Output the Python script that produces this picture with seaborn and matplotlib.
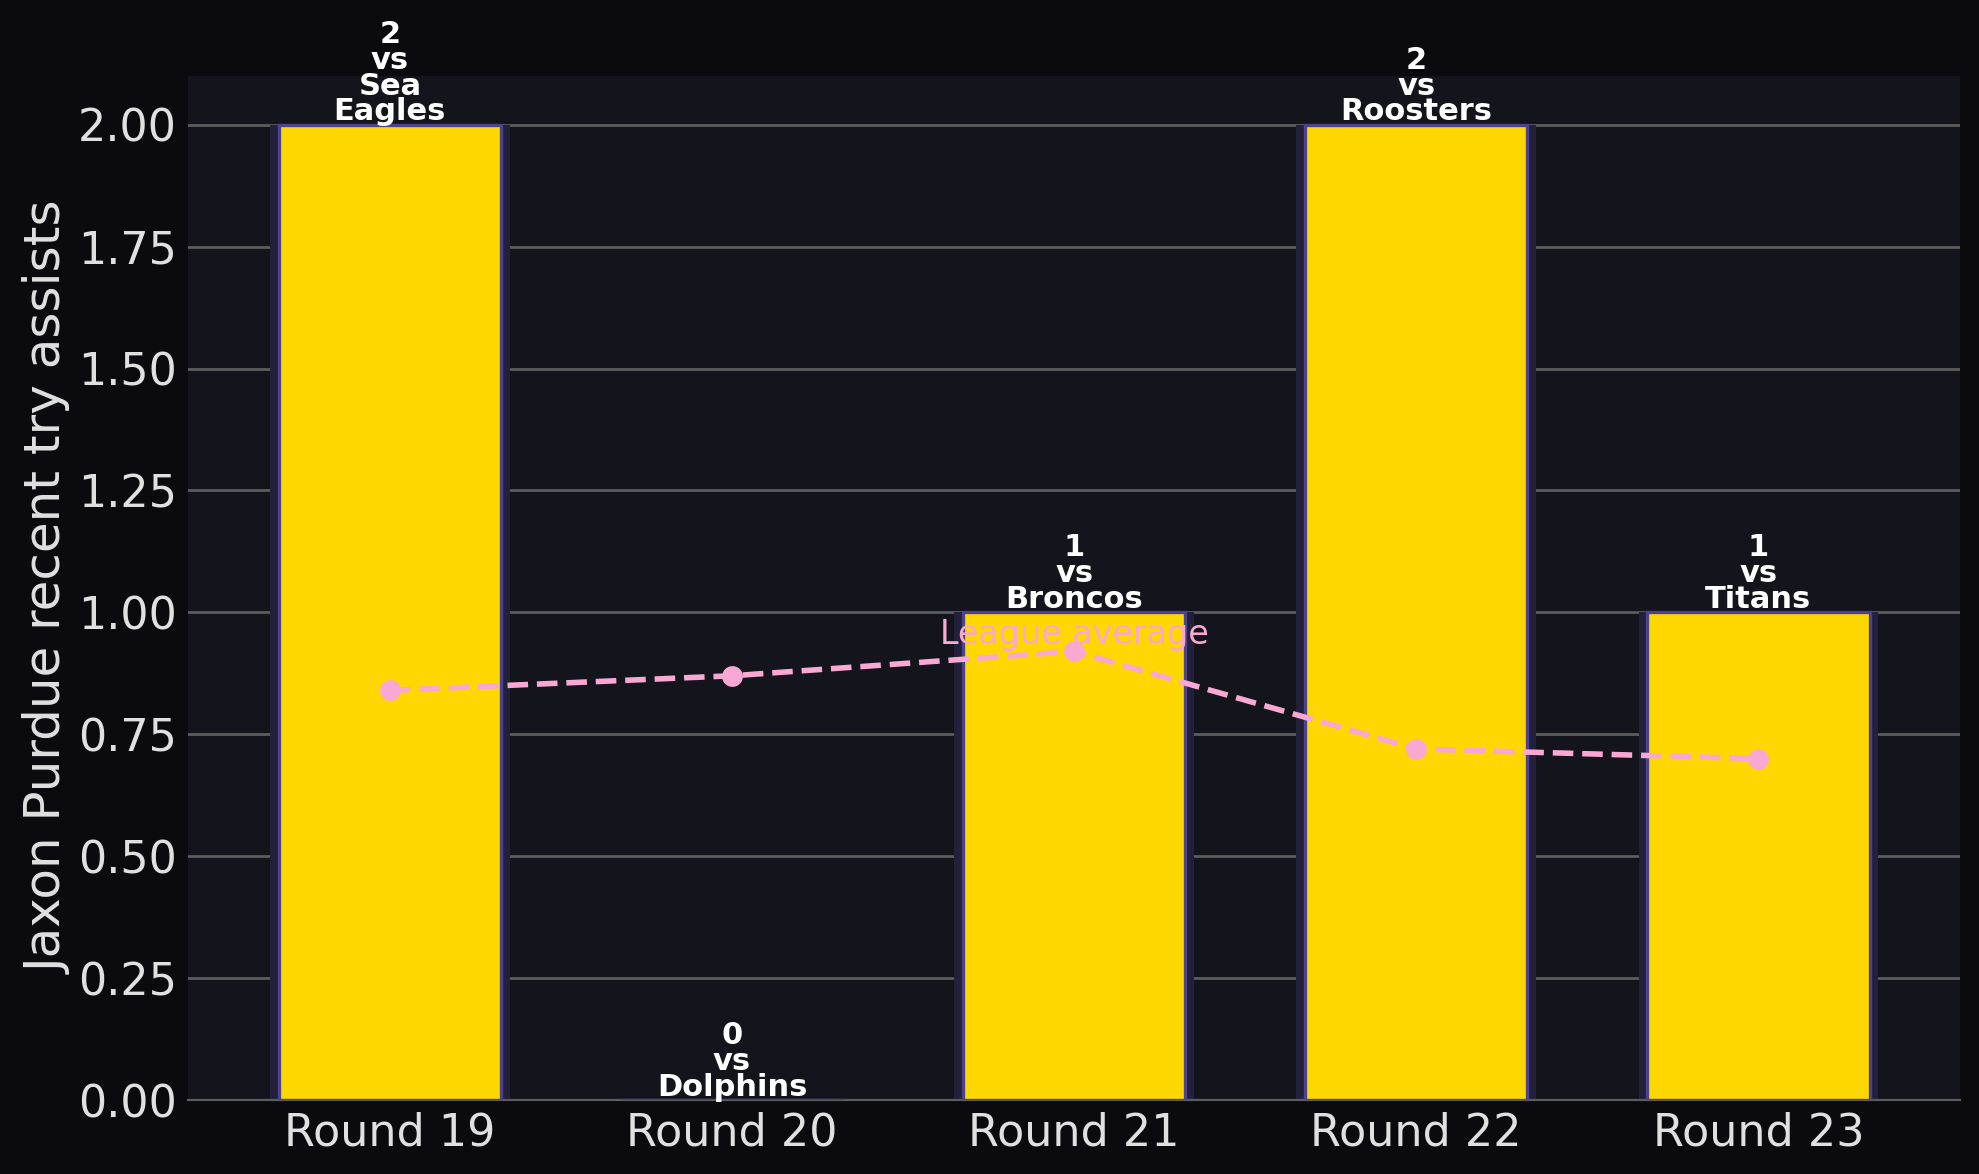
import matplotlib
matplotlib.use("Agg")
import matplotlib.pyplot as plt
import seaborn as sns
import pandas as pd

# data
rounds = ["Round 19", "Round 20", "Round 21", "Round 22", "Round 23"]
opponents = ["Sea Eagles", "Dolphins", "Broncos", "Roosters", "Titans"]
assists = [2, 0, 1, 2, 1]
league_avg = [0.84, 0.87, 0.92, 0.72, 0.70]

df = pd.DataFrame({"round": rounds, "opp": opponents, "assists": assists, "avg": league_avg})

fig_bg = "#0b0b0f"
ax_bg = "#13141c"
text_col = "#e0e0e0"

sns.set_style("dark")
plt.rcParams["font.family"] = ["DejaVu Sans"]

fig = plt.figure(figsize=(9.895, 5.87), dpi=200, facecolor=fig_bg)
ax = fig.add_axes([0.095, 0.063, 0.8955, 0.8723])
ax.set_facecolor(ax_bg)

# soft wider bar behind each bar
sns.barplot(data=df, x="round", y="assists", color="#22203a", width=0.70,
            saturation=1, edgecolor="none", ax=ax, zorder=2)
sns.barplot(data=df, x="round", y="assists", color="#FFD700", width=0.65,
            saturation=1, edgecolor="#4b4290", linewidth=1.2, ax=ax, zorder=3)

sns.lineplot(data=df, x="round", y="avg", color="#f9a8d4", linestyle="--",
             linewidth=2.0, marker="o", markersize=7.5, markeredgewidth=0,
             ax=ax, zorder=4)

ax.text(2, league_avg[2], "League average", color="#f9a8d4", fontsize=12,
        ha="center", va="bottom", zorder=5)

for i, (v, opp) in enumerate(zip(assists, opponents)):
    label = f"{v}\nvs\n" + opp.replace(" ", "\n")
    ax.annotate(label, (i, v), xytext=(0, -0.6), textcoords="offset points",
                ha="center", va="bottom", color="white", fontsize=11,
                fontweight="bold", linespacing=0.86, zorder=6,
                annotation_clip=False)

ax.set_xlim(-0.59, 4.59)
ax.set_ylim(0, 2.1)
ax.set_yticks([0, 0.25, 0.5, 0.75, 1.0, 1.25, 1.5, 1.75, 2.0])
ax.yaxis.set_major_formatter(matplotlib.ticker.FormatStrFormatter("%.2f"))
ax.grid(axis="y", color="#5c5c5c", linewidth=1.0, zorder=0)
ax.grid(axis="x", visible=False)
ax.set_axisbelow(True)
for s in ["top", "right", "left"]:
    ax.spines[s].set_visible(False)
ax.spines["bottom"].set_color("#5c5c5c")
ax.tick_params(colors=text_col, labelsize=16, length=0, pad=4)
ax.set_xlabel("")
ax.set_ylabel("Jaxon Purdue recent try assists", color=text_col, fontsize=18,
              labelpad=2)

fig.savefig("out.png", dpi=200, facecolor=fig_bg)
